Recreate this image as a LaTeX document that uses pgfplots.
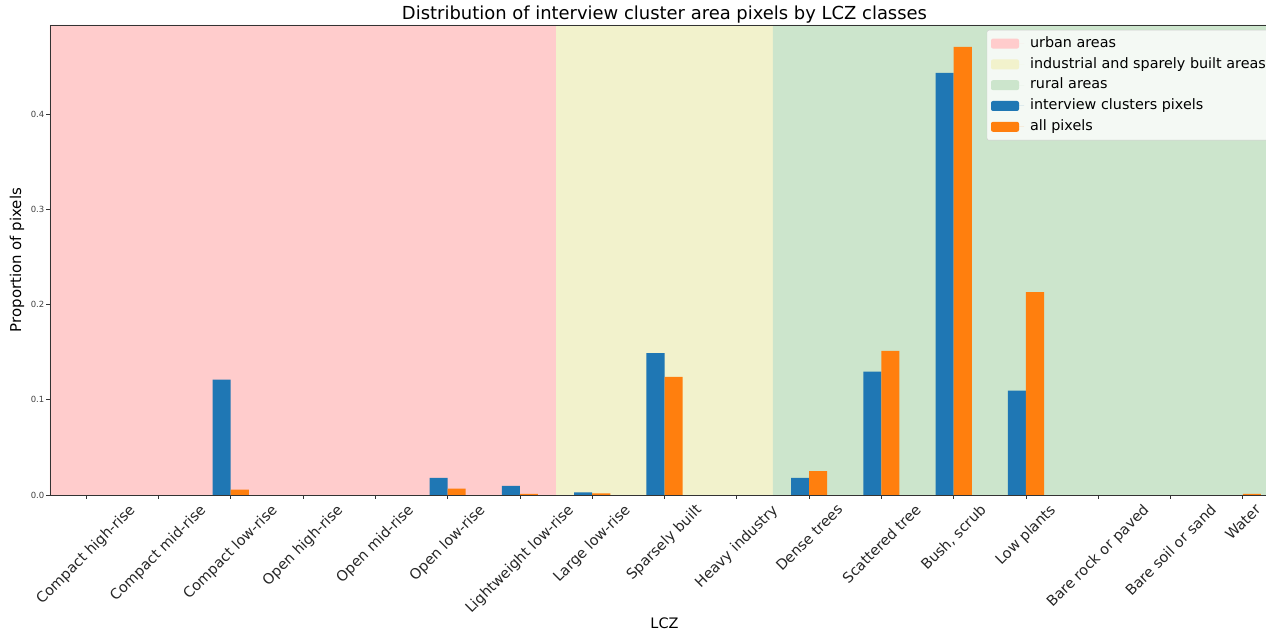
\documentclass[border=0pt]{standalone}
\usepackage{fontspec}
\setmainfont{DejaVu Sans}
\usepackage{graphicx}
\usepackage{pgfplots}
\usepackage{pgfplotstable}
\pgfplotsset{compat=1.18}
\definecolor{urb}{RGB}{255,204,204}
\definecolor{ind}{RGB}{242,242,204}
\definecolor{rur}{RGB}{204,229,204}
\definecolor{mplblue}{HTML}{1F77B4}
\definecolor{mplorange}{HTML}{FF7F0E}
\pgfplotstableread{
x blue orange
0 0 0
1 0 0
2 0.1212 0.0056
3 0 0
4 0 0
5 0.0179 0.0066
6 0.0095 0.0012
7 0.0028 0.0018
8 0.1490 0.1240
9 0 0
10 0.0179 0.0252
11 0.1296 0.1513
12 0.4433 0.4706
13 0.1096 0.2132
14 0 0
15 0 0
16 0 0.0012
}\lcz
\begin{document}
\begin{tikzpicture}
\begin{axis}[
  at={(0,0)}, anchor=south west,
  width=1229bp, height=470bp, scale only axis,
  xmin=-0.5, xmax=16.5, ymin=0, ymax=0.4937,
  axis on top,
  axis line style={black!80, line width=0.8bp},
  tick style={black!80, line width=0.8bp},
  tick align=outside, major tick length=3.5bp,
  xtick pos=bottom, ytick pos=left,
  xtick={0,...,16},
  xticklabels={
    {\rotatebox{45}{Compact high-rise}},
    {\rotatebox{45}{Compact mid-rise}},
    {\rotatebox{45}{Compact low-rise}},
    {\rotatebox{45}{Open high-rise}},
    {\rotatebox{45}{Open mid-rise}},
    {\rotatebox{45}{Open low-rise}},
    {\rotatebox{45}{Lightweight low-rise}},
    {\rotatebox{45}{Large low-rise}},
    {\rotatebox{45}{Sparsely built}},
    {\rotatebox{45}{Heavy industry}},
    {\rotatebox{45}{Dense trees}},
    {\rotatebox{45}{Scattered tree}},
    {\rotatebox{45}{Bush, scrub}},
    {\rotatebox{45}{Low plants}},
    {\rotatebox{45}{Bare rock or paved}},
    {\rotatebox{45}{Bare soil or sand}},
    {\rotatebox{45}{Water}}},
  xticklabel style={font=\fontsize{14.5}{16}\selectfont, anchor=north, inner sep=0pt, yshift=-4.5bp, text=black!85},
  ytick={0,0.1,0.2,0.3,0.4},
  yticklabel style={font=\fontsize{8.5}{10}\selectfont, text=black!75, inner sep=2bp},
  /pgf/number format/assume math mode=true,
  /pgf/number format/fixed, /pgf/number format/precision=1, /pgf/number format/fixed zerofill,
  title={Distribution of interview cluster area pixels by LCZ classes},
  title style={font=\fontsize{18}{21}\selectfont, at={(axis description cs:0.5,1)}, anchor=base, yshift=0bp},
  ylabel={Proportion of pixels},
  ylabel style={font=\fontsize{15}{17}\selectfont, at={(axis description cs:-0.0269,0.5)}, anchor=center},
  xlabel={LCZ},
  xlabel style={font=\fontsize{14.5}{16}\selectfont, at={(axis description cs:0.5,-0.272)}, anchor=center},
  legend style={at={(axis description cs:1,1)}, anchor=north east, xshift=-3bp, yshift=-5bp,
    fill=white, fill opacity=0.8, text opacity=1, draw=black!20, rounded corners=2bp,
    font=\fontsize{14.4}{16}\selectfont, inner xsep=4bp, inner ysep=3bp,
    nodes={text height=10.3bp, text depth=3bp, inner ysep=3.75bp, inner xsep=6bp}},
  legend cell align=left,
  legend image code/.code={\path[#1, draw=none, fill opacity=1] (0bp,-5bp) rectangle (28bp,5bp); \path (0bp,0bp) -- (33bp,0bp);},
]
\addplot[fill=urb, draw=none] coordinates {(-0.5,0) (-0.5,0.4937) (6.5,0.4937) (6.5,0)} \closedcycle;
\addlegendentry{urban areas}
\addplot[fill=ind, draw=none] coordinates {(6.5,0) (6.5,0.4937) (9.5,0.4937) (9.5,0)} \closedcycle;
\addlegendentry{industrial and sparely built areas}
\addplot[fill=rur, draw=none] coordinates {(9.5,0) (9.5,0.4937) (16.5,0.4937) (16.5,0)} \closedcycle;
\addlegendentry{rural areas}
\addplot[ybar, bar width=0.25, bar shift=-0.125, fill=mplblue, draw=none] table[x=x, y=blue] {\lcz};
\addlegendentry{interview clusters pixels}
\addplot[ybar, bar width=0.25, bar shift=0.125, fill=mplorange, draw=none] table[x=x, y=orange] {\lcz};
\addlegendentry{all pixels}
\end{axis}
\pgfresetboundingbox
\useasboundingbox (-50bp,-135bp) rectangle (1216bp,495bp);
\end{tikzpicture}
\end{document}
